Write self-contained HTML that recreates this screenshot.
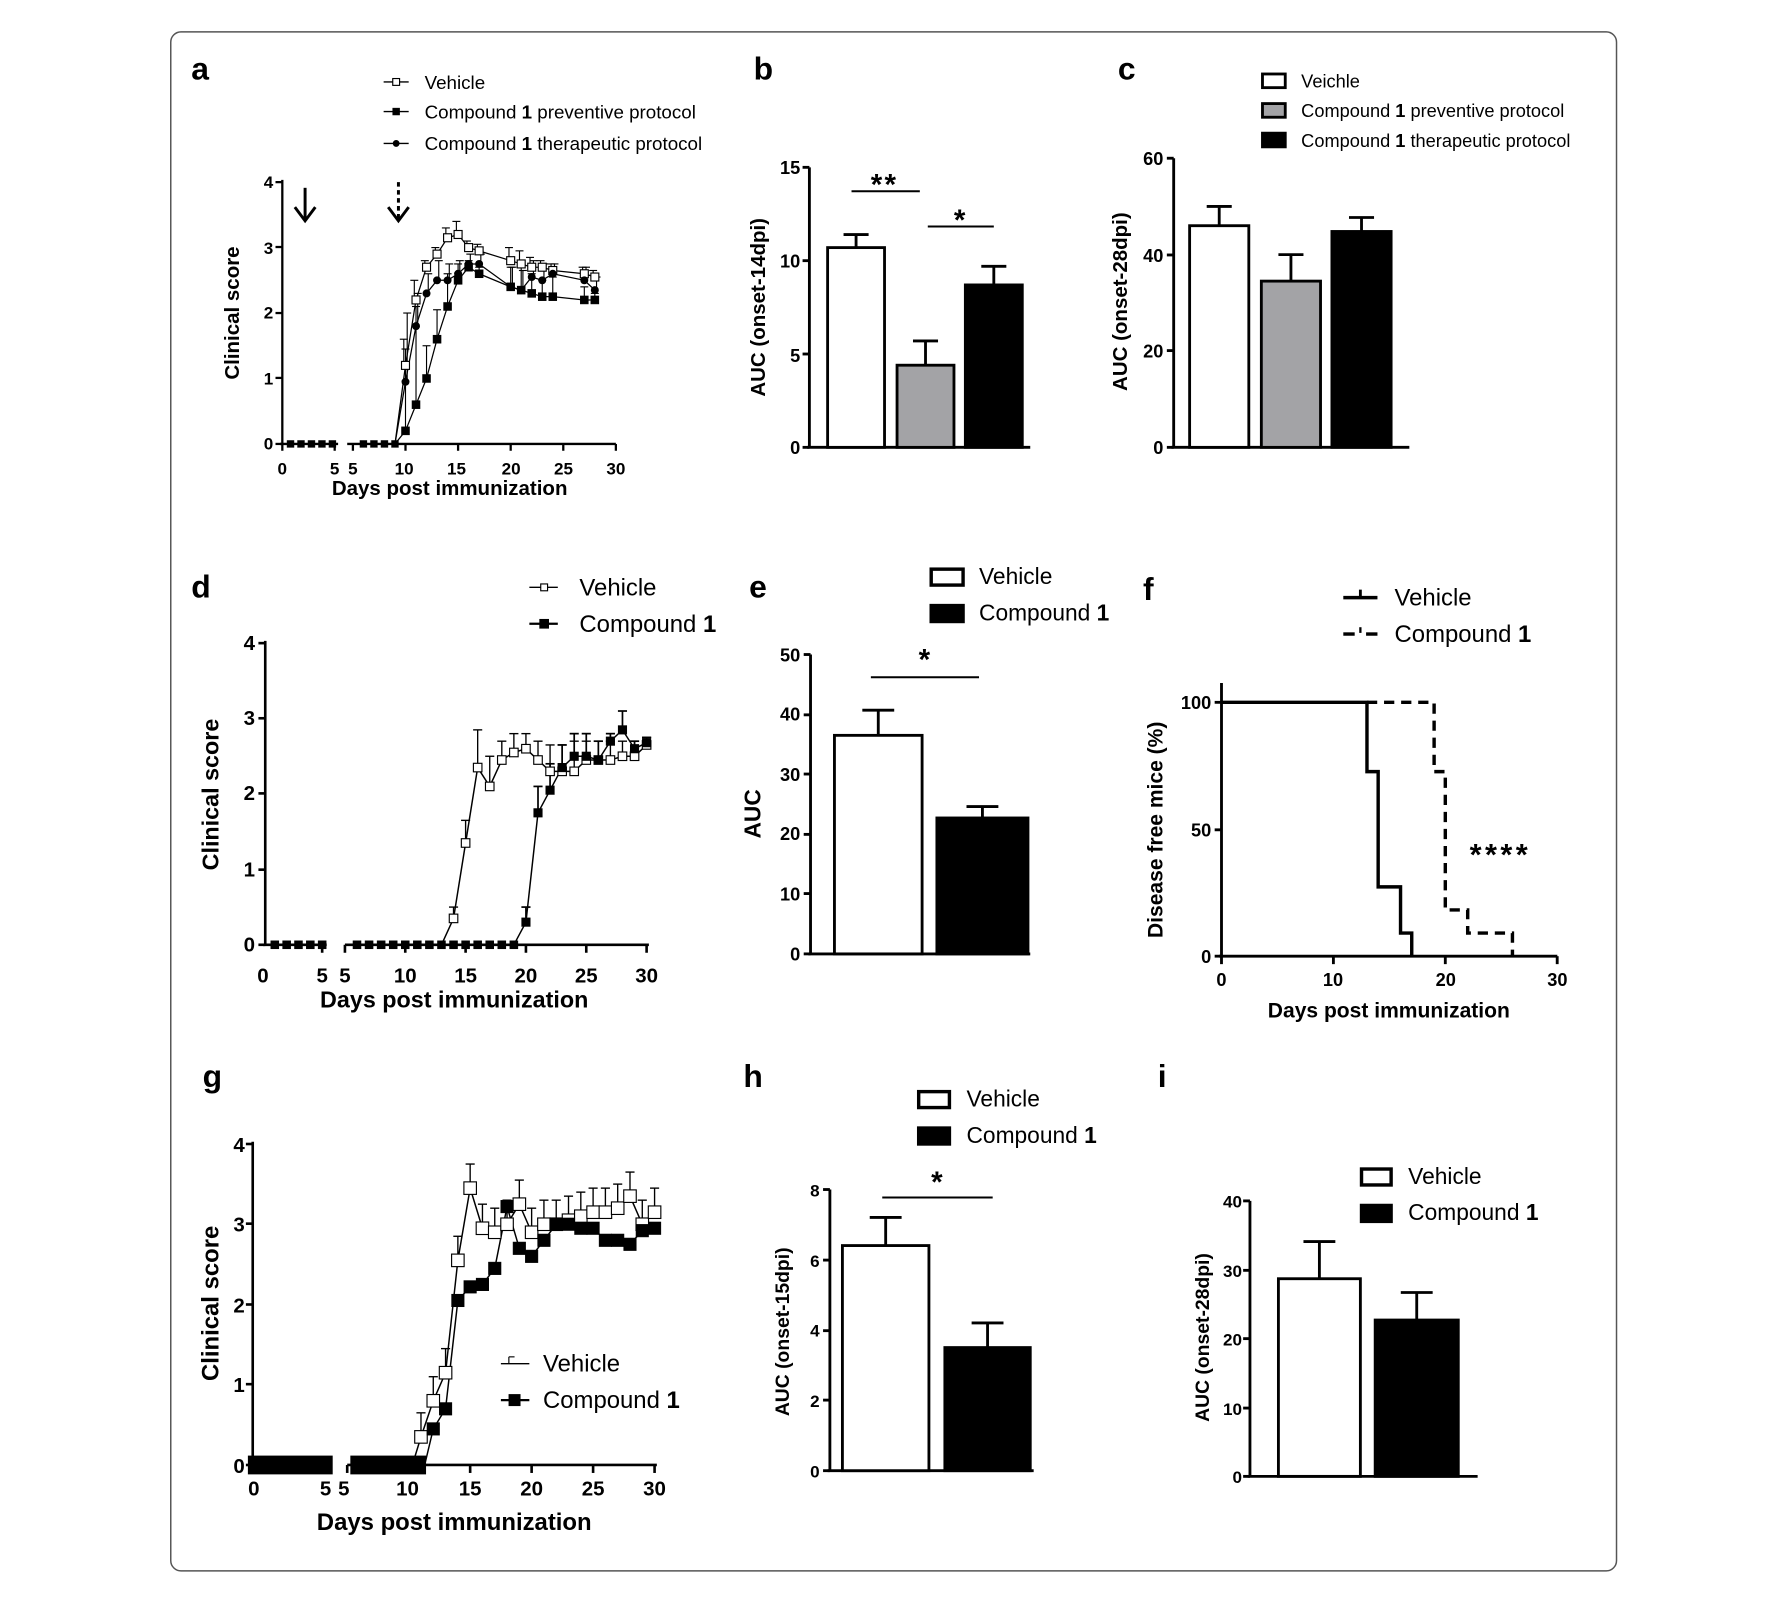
<!DOCTYPE html>
<html><head><meta charset="utf-8"><style>
html,body{margin:0;padding:0;background:#fff;}
svg{display:block;}
text{font-family:"Liberation Sans",Arial,sans-serif;fill:#000;}
.b{font-weight:bold;}
</style></head><body>
<svg id="s" width="1785" height="1605" viewBox="0 0 1568 1410" preserveAspectRatio="none" xmlns="http://www.w3.org/2000/svg">
<rect x="150" y="28" width="1270" height="1352" rx="9" fill="#fff" stroke="#555" stroke-width="1.3"/>
<g id="g"></g>
<!-- panel letters -->
<text x="168" y="70" class="b" font-size="28">a</text>
<text x="662" y="70" class="b" font-size="28">b</text>
<text x="982" y="70" class="b" font-size="28">c</text>
<text x="168" y="525" class="b" font-size="28">d</text>
<text x="658" y="525" class="b" font-size="28">e</text>
<text x="1004" y="527" class="b" font-size="28">f</text>
<text x="178" y="955" class="b" font-size="28">g</text>
<text x="653" y="955" class="b" font-size="28">h</text>
<text x="1017" y="955" class="b" font-size="28">i</text>

<!-- a text -->
<text x="373" y="78" font-size="16.5">Vehicle</text>
<text x="373" y="104" font-size="16.5">Compound <tspan class="b">1</tspan> preventive protocol</text>
<text x="373" y="132" font-size="16.5">Compound <tspan class="b">1</tspan> therapeutic protocol</text>
<g font-size="15" class="b" text-anchor="end">
<text x="240" y="165">4</text><text x="240" y="223">3</text><text x="240" y="280">2</text><text x="240" y="338">1</text><text x="240" y="395">0</text></g>
<g font-size="15" class="b" text-anchor="middle">
<text x="248" y="417">0</text><text x="294" y="417">5</text><text x="310" y="417">5</text><text x="355" y="417">10</text><text x="401" y="417">15</text><text x="449" y="417">20</text><text x="495" y="417">25</text><text x="541" y="417">30</text></g>
<text x="395" y="435" class="b" font-size="18" text-anchor="middle">Days post immunization</text>
<text transform="translate(210,275) rotate(-90)" class="b" font-size="18" text-anchor="middle">Clinical score</text>

<!-- b text -->
<g font-size="16" class="b" text-anchor="end">
<text x="703" y="153">15</text><text x="703" y="235">10</text><text x="703" y="318">5</text><text x="703" y="399">0</text></g>
<text transform="translate(672,270) rotate(-90)" class="b" font-size="18" text-anchor="middle">AUC (onset-14dpi)</text>
<text x="777" y="171" class="b" font-size="26" text-anchor="middle" letter-spacing="2">**</text>
<text x="843" y="202" class="b" font-size="26" text-anchor="middle">*</text>

<!-- c text -->
<text x="1143" y="77" font-size="16">Veichle</text>
<text x="1143" y="103" font-size="16">Compound <tspan class="b">1</tspan> preventive protocol</text>
<text x="1143" y="129" font-size="16">Compound <tspan class="b">1</tspan> therapeutic protocol</text>
<g font-size="16" class="b" text-anchor="end">
<text x="1022" y="145">60</text><text x="1022" y="230">40</text><text x="1022" y="314">20</text><text x="1022" y="399">0</text></g>
<text transform="translate(990,265) rotate(-90)" class="b" font-size="18" text-anchor="middle">AUC (onset-28dpi)</text>

<!-- d text -->
<text x="509" y="523" font-size="21">Vehicle</text>
<text x="509" y="555" font-size="21">Compound <tspan class="b">1</tspan></text>
<g font-size="18" class="b" text-anchor="end">
<text x="224" y="571">4</text><text x="224" y="637">3</text><text x="224" y="703">2</text><text x="224" y="770">1</text><text x="224" y="836">0</text></g>
<g font-size="18" class="b" text-anchor="middle">
<text x="231" y="863">0</text><text x="283" y="863">5</text><text x="303" y="863">5</text><text x="356" y="863">10</text><text x="409" y="863">15</text><text x="462" y="863">20</text><text x="515" y="863">25</text><text x="568" y="863">30</text></g>
<text x="399" y="885" class="b" font-size="20.5" text-anchor="middle">Days post immunization</text>
<text transform="translate(192,698) rotate(-90)" class="b" font-size="20.5" text-anchor="middle">Clinical score</text>

<!-- e text -->
<text x="860" y="513" font-size="20">Vehicle</text>
<text x="860" y="545" font-size="20">Compound <tspan class="b">1</tspan></text>
<g font-size="16" class="b" text-anchor="end">
<text x="703" y="581">50</text><text x="703" y="633">40</text><text x="703" y="686">30</text><text x="703" y="738">20</text><text x="703" y="791">10</text><text x="703" y="844">0</text></g>
<text x="812" y="588" class="b" font-size="26" text-anchor="middle">*</text>
<text transform="translate(668,715) rotate(-90)" class="b" font-size="20" text-anchor="middle">AUC</text>

<!-- f text -->
<text x="1225" y="532" font-size="21">Vehicle</text>
<text x="1225" y="564" font-size="21">Compound <tspan class="b">1</tspan></text>
<g font-size="16" class="b" text-anchor="end">
<text x="1064" y="623">100</text><text x="1064" y="735">50</text><text x="1064" y="846">0</text></g>
<g font-size="16" class="b" text-anchor="middle">
<text x="1073" y="866">0</text><text x="1171" y="866">10</text><text x="1270" y="866">20</text><text x="1368" y="866">30</text></g>
<text x="1220" y="894" class="b" font-size="18.5" text-anchor="middle">Days post immunization</text>
<text transform="translate(1021,729) rotate(-90)" class="b" font-size="18.5" text-anchor="middle">Disease free mice (%)</text>
<text x="1318" y="760" class="b" font-size="27" text-anchor="middle" letter-spacing="3">****</text>

<!-- g text -->
<text x="477" y="1205" font-size="21">Vehicle</text>
<text x="477" y="1237" font-size="21">Compound <tspan class="b">1</tspan></text>
<g font-size="18" class="b" text-anchor="end">
<text x="215" y="1012">4</text><text x="215" y="1082">3</text><text x="215" y="1153">2</text><text x="215" y="1223">1</text><text x="215" y="1294">0</text></g>
<g font-size="18" class="b" text-anchor="middle">
<text x="223" y="1314">0</text><text x="286" y="1314">5</text><text x="302" y="1314">5</text><text x="358" y="1314">10</text><text x="413" y="1314">15</text><text x="467" y="1314">20</text><text x="521" y="1314">25</text><text x="575" y="1314">30</text></g>
<text x="399" y="1344" class="b" font-size="21" text-anchor="middle">Days post immunization</text>
<text transform="translate(192,1145) rotate(-90)" class="b" font-size="21" text-anchor="middle">Clinical score</text>

<!-- h text -->
<text x="849" y="972" font-size="20">Vehicle</text>
<text x="849" y="1004" font-size="20">Compound <tspan class="b">1</tspan></text>
<g font-size="15" class="b" text-anchor="end">
<text x="720" y="1051">8</text><text x="720" y="1113">6</text><text x="720" y="1174">4</text><text x="720" y="1236">2</text><text x="720" y="1298">0</text></g>
<text x="823" y="1047" class="b" font-size="26" text-anchor="middle">*</text>
<text transform="translate(693,1170) rotate(-90)" class="b" font-size="17" text-anchor="middle">AUC (onset-15dpi)</text>

<!-- i text -->
<text x="1237" y="1040" font-size="20">Vehicle</text>
<text x="1237" y="1072" font-size="20">Compound <tspan class="b">1</tspan></text>
<g font-size="15" class="b" text-anchor="end">
<text x="1091" y="1061">40</text><text x="1091" y="1122">30</text><text x="1091" y="1182">20</text><text x="1091" y="1243">10</text><text x="1091" y="1303">0</text></g>
<text transform="translate(1062,1175) rotate(-90)" class="b" font-size="17" text-anchor="middle">AUC (onset-28dpi)</text>
</svg>
<script>
(function(){
var NS="http://www.w3.org/2000/svg",G=document.getElementById("g");
function el(t,a){var e=document.createElementNS(NS,t);for(var k in a)e.setAttribute(k,a[k]);G.appendChild(e);return e;}
function L(x1,y1,x2,y2,w,extra){var a={x1:x1,y1:y1,x2:x2,y2:y2,stroke:"#000","stroke-width":w||2};if(extra)for(var k in extra)a[k]=extra[k];return el("line",a);}
function R(x,y,w,h,f,sw){return el("rect",{x:x,y:y,width:w,height:h,fill:f,stroke:"#000","stroke-width":sw||2.5});}
function P(pts,w,extra){var a={points:pts.map(function(p){return p[0]+","+p[1]}).join(" "),fill:"none",stroke:"#000","stroke-width":w||1.2};if(extra)for(var k in extra)a[k]=extra[k];return el("polyline",a);}
function mk(x,y,type,s){
 if(type=="os")R(x-s/2,y-s/2,s,s,"#fff",1);
 else if(type=="fs")R(x-s/2,y-s/2,s,s,"#000",0.5);
 else el("circle",{cx:x,cy:y,r:s/2,fill:"#000"});
}
function yaxis(x,y0,y1,ticks,w){L(x,y0,x,y1,w);ticks.forEach(function(t){L(x-6,t,x,t,w);});}

/* ---- panel a ---- */
(function(){
 var X=function(d){return d<=5?248+d*9.2:310+(d-5)*9.24},Y=function(v){return 390-v*57.5};
 yaxis(248,158,390,[160,217,275,332,390],2);
 L(246,390,297,390,2);L(305,390,541,390,2);
 [0,5].forEach(function(d){L(X(d),390,X(d),396,2)});
 [5,10,15,20,25,30].forEach(function(d){L(X(d+0.0001),390,X(d+0.0001),396,2)});
 L(268,165,268,193,2.6);P([[259,182],[268,194],[277,182]],2.6);
 L(350,160,350,193,2.6,{"stroke-dasharray":"4,3"});P([[341,182],[350,194],[359,182]],2.6);
 var veh=[[10,1.2],[11,2.2],[12,2.7],[13,2.9],[14,3.15],[15,3.2],[16,3.0],[17,2.95],[20,2.8],[21,2.75],[22,2.7],[23,2.7],[24,2.65],[27,2.6],[28,2.55]];
 var pre=[[10,0.2],[11,0.6],[12,1.0],[13,1.6],[14,2.1],[15,2.5],[16,2.7],[17,2.6],[20,2.4],[21,2.35],[22,2.3],[23,2.25],[24,2.25],[27,2.2],[28,2.2]];
 var the=[[10,0.95],[11,1.8],[12,2.3],[13,2.5],[14,2.5],[15,2.6],[16,2.75],[17,2.75],[20,2.4],[21,2.35],[22,2.55],[23,2.5],[24,2.6],[27,2.5],[28,2.35]];
 var eb={10:[1.6,1.45,2.0],11:[2.5,2.1,2.3],12:[2.8,1.5,2.6],13:[3.0,2.05,2.8],14:[3.3,2.6,2.75],15:[3.4,2.75,2.8],16:[3.1,2.8,2.9],17:[3.05,2.7,2.9],20:[3.0,2.7,2.7],21:[2.95,2.7,2.65],22:[2.85,2.6,2.8],23:[2.8,2.5,2.75],24:[2.75,2.55,2.75],27:[2.7,2.4,2.7],28:[2.65,2.3,2.55]};
 for(var d in eb){var xx=X(+d);eb[d].forEach(function(v,i){var x=xx+(i-1)*1.5;var base=[veh,pre,the][i].filter(function(p){return p[0]==d})[0];if(!base)return;L(x,Y(base[1]),x,Y(v),1);L(x-3.5,Y(v),x+3.5,Y(v),1);});}
 [veh,pre,the].forEach(function(s){P([[X(9),390]].concat(s.map(function(p){return[X(p[0]),Y(p[1])]})),1.1);});
 veh.forEach(function(p){mk(X(p[0]),Y(p[1]),"os",7)});
 pre.forEach(function(p){mk(X(p[0]),Y(p[1]),"fs",7)});
 the.forEach(function(p){mk(X(p[0]),Y(p[1]),"c",7)});
 [1,2,3,4,5].forEach(function(d){mk(X(d)-2,390,"fs",6)});[6,7,8,9].forEach(function(d){mk(X(d),390,"fs",6)});
 L(337,72,359,72,1.2);mk(348,72,"os",6);
 L(337,98,359,98,1.2);mk(348,98,"fs",6);
 L(337,126,359,126,1.2);mk(348,126,"c",6);
})();

/* ---- panel b ---- */
(function(){
 var Y=function(v){return 393-v*16.4};
 yaxis(711,147,393,[147,229,311,393],2.5);L(709,393,905,393,2.5);
 [[727,777,10.7,11.4,"#fff"],[788,838,4.4,5.7,"#a3a3a6"],[848,898,8.7,9.7,"#000"]].forEach(function(b){
  var xc=(b[0]+b[1])/2;L(xc,Y(b[2]),xc,Y(b[3]),2.5);L(xc-11,Y(b[3]),xc+11,Y(b[3]),2.5);
  R(b[0],Y(b[2]),b[1]-b[0],393-Y(b[2]),b[4],2.5);});
 L(748,168,808,168,1.8);L(815,199,873,199,1.8);
})();

/* ---- panel c ---- */
(function(){
 var Y=function(v){return 393-v*4.233};
 yaxis(1031,139,393,[139,224,308,393],2.5);L(1029,393,1238,393,2.5);
 [[1045,1097,46,50,"#fff"],[1108,1160,34.5,40,"#a3a3a6"],[1170,1222,44.8,47.7,"#000"]].forEach(function(b){
  var xc=(b[0]+b[1])/2;L(xc,Y(b[2]),xc,Y(b[3]),2.5);L(xc-11,Y(b[3]),xc+11,Y(b[3]),2.5);
  R(b[0],Y(b[2]),b[1]-b[0],393-Y(b[2]),b[4],2.5);});
 R(1109,65,20,12,"#fff",2.5);R(1109,91,20,12,"#a3a3a6",2.5);R(1109,117,20,12,"#000",2.5);
})();

/* ---- panel d ---- */
(function(){
 var X=function(d,s){return s?303+(d-5)*10.6:231+d*10.4},Y=function(v){return 830-v*66.25};
 yaxis(233,563,830,[565,631,697,764,830],2.3);
 L(231,830,287,830,2.3);L(303,830,570,830,2.3);
 L(X(5),830,X(5),837,2.3);[5,10,15,20,25,30].forEach(function(d){L(X(d,1),830,X(d,1),837,2.3)});
 var veh=[[14,0.35],[15,1.35],[16,2.35],[17,2.1],[18,2.45],[19,2.55],[20,2.6],[21,2.45],[22,2.3],[23,2.3],[24,2.3],[25,2.45],[26,2.45],[27,2.45],[28,2.5],[29,2.5],[30,2.65]];
 var cmp=[[20,0.3],[21,1.75],[22,2.05],[23,2.35],[24,2.5],[25,2.5],[26,2.45],[27,2.7],[28,2.85],[29,2.6],[30,2.68]];
 var ev={14:0.5,15:1.65,16:2.85,17:2.5,18:2.7,19:2.8,20:2.8,21:2.7,22:2.65,23:2.65,24:2.7,25:2.7,26:2.7,27:2.7,28:2.7,29:2.7,30:2.75};
 var ec={20:0.5,21:2.1,22:2.4,23:2.65,24:2.8,25:2.8,26:2.7,27:2.8,28:3.1,29:2.7,30:2.75};
 veh.forEach(function(p){var x=X(p[0],1);L(x,Y(p[1]),x,Y(ev[p[0]]),1.2);L(x-4,Y(ev[p[0]]),x+4,Y(ev[p[0]]),1.2)});
 cmp.forEach(function(p){var x=X(p[0],1);L(x,Y(p[1]),x,Y(ec[p[0]]),1.5);L(x-4,Y(ec[p[0]]),x+4,Y(ec[p[0]]),1.5)});
 P([[X(13,1),830]].concat(veh.map(function(p){return[X(p[0],1),Y(p[1])]})),1.3);
 P([[X(19,1),830]].concat(cmp.map(function(p){return[X(p[0],1),Y(p[1])]})),1.3);
 [1,2,3,4,5].forEach(function(d){mk(X(d),830,"fs",7)});
 for(var d=6;d<=19;d++)mk(X(d,1),830,"fs",7);
 veh.forEach(function(p){mk(X(p[0],1),Y(p[1]),"os",7.5)});
 cmp.forEach(function(p){mk(X(p[0],1),Y(p[1]),"fs",7.5)});
 L(465,516,490,516,1.2);mk(478,516,"os",6);
 L(465,548,490,548,2);mk(478,548,"fs",8);
})();

/* ---- panel e ---- */
(function(){
 var Y=function(v){return 838-v*5.26};
 yaxis(712,575,838,[575,628,680,733,785,838],2.5);L(710,838,905,838,2.5);
 [[733,810,36.5,40.7,"#fff"],[823,903,22.7,24.6,"#000"]].forEach(function(b){
  var xc=(b[0]+b[1])/2;L(xc,Y(b[2]),xc,Y(b[3]),2.5);L(xc-14,Y(b[3]),xc+14,Y(b[3]),2.5);
  R(b[0],Y(b[2]),b[1]-b[0],838-Y(b[2]),b[4],2.5);});
 L(765,595,860,595,1.8);
 R(818,500,28,14,"#fff",3);R(818,532,28,14,"#000",3);
})();

/* ---- panel f ---- */
(function(){
 var X=function(d){return 1073+d*9.83},Y=function(v){return 840-v*2.23};
 yaxis(1073,600,840,[617,729,840],2.5);L(1071,840,1368,840,2.5);
 [0,10,20,30].forEach(function(d){L(X(d),840,X(d),847,2.5)});
 P([[X(0),Y(100)],[X(13),Y(100)],[X(13),Y(72.7)],[X(14),Y(72.7)],[X(14),Y(27.3)],[X(16),Y(27.3)],[X(16),Y(9.1)],[X(17),Y(9.1)],[X(17),Y(0)]],3);
 P([[X(13),Y(100)],[X(19),Y(100)],[X(19),Y(72.7)],[X(20),Y(72.7)],[X(20),Y(18.2)],[X(22),Y(18.2)],[X(22),Y(9.1)],[X(26),Y(9.1)],[X(26),Y(0)]],3,{"stroke-dasharray":"9,6"});
 L(1180,525,1210,525,3);L(1195,518,1195,525,2.5);
 L(1180,557,1190,557,3);L(1200,557,1210,557,3);L(1195,551,1195,556,2);
})();

/* ---- panel g ---- */
(function(){
 var X=function(d,s){return s?305+(d-5)*10.8:222+d*12.8},Y=function(v){return 1287-v*70.5};
 yaxis(222,1003,1287,[1005,1075,1146,1216,1287],2.3);
 L(222,1287,292,1287,2.3);L(305,1287,577,1287,2.3);
 [5,10,15,20,25,30].forEach(function(d){L(X(d,1),1287,X(d,1),1294,2.3)});
 var veh=[[11,0.35],[12,0.8],[13,1.15],[14,2.55],[15,3.45],[16,2.95],[17,2.9],[18,3.0],[19,3.25],[20,2.9],[21,3.0],[22,3.0],[23,3.05],[24,3.1],[25,3.15],[26,3.15],[27,3.2],[28,3.35],[29,3.0],[30,3.15]];
 var cmp=[[12,0.45],[13,0.7],[14,2.05],[15,2.22],[16,2.25],[17,2.45],[18,3.22],[19,2.7],[20,2.6],[21,2.8],[22,3.0],[23,3.0],[24,2.95],[25,2.95],[26,2.8],[27,2.8],[28,2.75],[29,2.92],[30,2.95]];
 veh.forEach(function(p){var x=X(p[0],1),t=p[1]+0.3;L(x,Y(p[1]),x,Y(t),1.2);L(x-4,Y(t),x+4,Y(t),1.2)});
 P([[X(10.3,1),1287]].concat(veh.map(function(p){return[X(p[0],1),Y(p[1])]})),1.3);
 P([[X(11.3,1),1287]].concat(cmp.map(function(p){return[X(p[0],1),Y(p[1])]})),1.3);
 R(219,1280,72,14,"#000",0);R(309,1280,64,14,"#000",0);
 veh.forEach(function(p){mk(X(p[0],1),Y(p[1]),"os",11)});
 cmp.forEach(function(p){mk(X(p[0],1),Y(p[1]),"fs",11)});
 L(440,1198,465,1198,1.2);L(447,1198,447,1192,1);L(447,1192,452,1192,1);
 L(440,1230,465,1230,2);mk(452,1230,"fs",10);
})();

/* ---- panel h ---- */
(function(){
 var Y=function(v){return 1292-v*30.9};
 yaxis(729,1045,1292,[1045,1107,1169,1230,1292],2.5);L(727,1292,908,1292,2.5);
 [[740,816,6.4,7.2,"#fff"],[830,905,3.5,4.2,"#000"]].forEach(function(b){
  var xc=(b[0]+b[1])/2;L(xc,Y(b[2]),xc,Y(b[3]),2.5);L(xc-14,Y(b[3]),xc+14,Y(b[3]),2.5);
  R(b[0],Y(b[2]),b[1]-b[0],1292-Y(b[2]),b[4],2.5);});
 L(775,1052,872,1052,1.8);
 R(807,959,27,14,"#fff",3);R(807,991,27,14,"#000",3);
})();

/* ---- panel i ---- */
(function(){
 var Y=function(v){return 1297-v*6.05};
 yaxis(1098,1055,1297,[1055,1116,1176,1237,1297],2.5);L(1096,1297,1298,1297,2.5);
 [[1123,1195,28.7,34.1,"#fff"],[1208,1281,22.7,26.7,"#000"]].forEach(function(b){
  var xc=(b[0]+b[1])/2;L(xc,Y(b[2]),xc,Y(b[3]),2.5);L(xc-14,Y(b[3]),xc+14,Y(b[3]),2.5);
  R(b[0],Y(b[2]),b[1]-b[0],1297-Y(b[2]),b[4],2.5);});
 R(1196,1027,26,14,"#fff",3);R(1196,1059,26,14,"#000",3);
})();
})();
</script>
</body></html>
